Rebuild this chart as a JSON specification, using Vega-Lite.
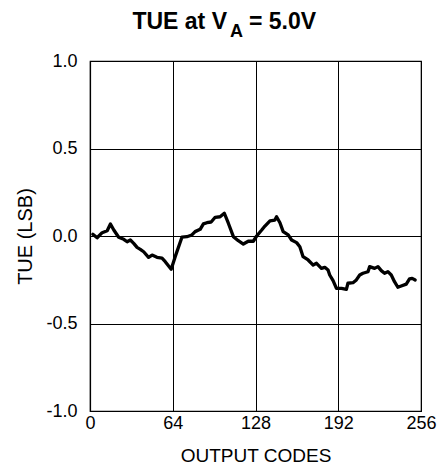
{
  "$schema": "https://vega.github.io/schema/vega-lite/v6.json",
  "width": 331,
  "height": 350,
  "autosize": {"type": "none"},
  "padding": {"left": 90, "top": 61, "right": 22, "bottom": 61},
  "background": "white",
  "config": {
    "font": "Liberation Sans",
    "view": {"stroke": "black", "strokeWidth": 1.2},
    "axis": {
      "domainColor": "black",
      "domainWidth": 1.2,
      "gridColor": "black",
      "gridOpacity": 1,
      "gridWidth": 1,
      "ticks": false,
      "tickSize": 0,
      "labelFlush": false,
      "labelOverlap": false,
      "labelFont": "Liberation Sans",
      "labelFontSize": 18,
      "labelColor": "black",
      "titleFont": "Liberation Sans",
      "titleFontWeight": "normal",
      "titleColor": "#000000"
    }
  },
  "datasets": {
    "tue": [
      {"code": 2.2, "tue": 0.01},
      {"code": 5.5, "tue": -0.01},
      {"code": 9.4, "tue": 0.019},
      {"code": 13.3, "tue": 0.03},
      {"code": 15.8, "tue": 0.069},
      {"code": 18.4, "tue": 0.034},
      {"code": 22.2, "tue": -0.007},
      {"code": 26.1, "tue": -0.019},
      {"code": 28.7, "tue": -0.033},
      {"code": 31.2, "tue": -0.023},
      {"code": 33.8, "tue": -0.042},
      {"code": 36.4, "tue": -0.065},
      {"code": 38.9, "tue": -0.076},
      {"code": 41.5, "tue": -0.09},
      {"code": 45.3, "tue": -0.122},
      {"code": 48.0, "tue": -0.109},
      {"code": 51.8, "tue": -0.122},
      {"code": 55.7, "tue": -0.127},
      {"code": 58.2, "tue": -0.147},
      {"code": 62.8, "tue": -0.19},
      {"code": 65.9, "tue": -0.118},
      {"code": 71.1, "tue": -0.007},
      {"code": 74.9, "tue": -0.004},
      {"code": 78.8, "tue": 0.006},
      {"code": 81.3, "tue": 0.025},
      {"code": 85.2, "tue": 0.038},
      {"code": 87.7, "tue": 0.069},
      {"code": 90.4, "tue": 0.076},
      {"code": 93.7, "tue": 0.08},
      {"code": 96.8, "tue": 0.107},
      {"code": 100.6, "tue": 0.11},
      {"code": 103.9, "tue": 0.13},
      {"code": 107.0, "tue": 0.073},
      {"code": 110.9, "tue": -0.004},
      {"code": 114.7, "tue": -0.027},
      {"code": 118.6, "tue": -0.046},
      {"code": 122.4, "tue": -0.03},
      {"code": 126.3, "tue": -0.03},
      {"code": 128.9, "tue": 0.0},
      {"code": 132.8, "tue": 0.034},
      {"code": 135.3, "tue": 0.057},
      {"code": 139.2, "tue": 0.087},
      {"code": 143.0, "tue": 0.091},
      {"code": 144.3, "tue": 0.11},
      {"code": 146.9, "tue": 0.076},
      {"code": 149.4, "tue": 0.025},
      {"code": 153.3, "tue": 0.006},
      {"code": 155.9, "tue": -0.023},
      {"code": 159.8, "tue": -0.038},
      {"code": 162.3, "tue": -0.061},
      {"code": 164.8, "tue": -0.118},
      {"code": 168.7, "tue": -0.137},
      {"code": 172.6, "tue": -0.166},
      {"code": 175.2, "tue": -0.156},
      {"code": 179.0, "tue": -0.185},
      {"code": 181.6, "tue": -0.179},
      {"code": 184.1, "tue": -0.194},
      {"code": 185.4, "tue": -0.223},
      {"code": 188.0, "tue": -0.255},
      {"code": 190.6, "tue": -0.299},
      {"code": 194.5, "tue": -0.299},
      {"code": 198.3, "tue": -0.305},
      {"code": 199.5, "tue": -0.27},
      {"code": 203.4, "tue": -0.267},
      {"code": 206.0, "tue": -0.251},
      {"code": 208.6, "tue": -0.223},
      {"code": 211.1, "tue": -0.213},
      {"code": 215.0, "tue": -0.204},
      {"code": 216.3, "tue": -0.175},
      {"code": 220.1, "tue": -0.185},
      {"code": 222.7, "tue": -0.175},
      {"code": 225.3, "tue": -0.198},
      {"code": 227.8, "tue": -0.213},
      {"code": 230.4, "tue": -0.204},
      {"code": 233.0, "tue": -0.223},
      {"code": 235.5, "tue": -0.261},
      {"code": 238.1, "tue": -0.293},
      {"code": 240.7, "tue": -0.286},
      {"code": 244.6, "tue": -0.275},
      {"code": 247.1, "tue": -0.245},
      {"code": 249.2, "tue": -0.242},
      {"code": 251.5, "tue": -0.251}
    ],
    "heading": [
      {"part": "TUE at V", "kind": "main"},
      {"part": "A", "kind": "sub"},
      {"part": "= 5.0V", "kind": "tail"}
    ]
  },
  "layer": [
    {
      "data": {"name": "tue"},
      "mark": {"type": "line", "color": "black", "strokeWidth": 3.3, "strokeJoin": "round", "strokeCap": "round"},
      "encoding": {
        "x": {
          "field": "code",
          "type": "quantitative",
          "scale": {"domain": [0, 256], "nice": false, "zero": false},
          "axis": {
            "values": [0, 64, 128, 192, 256],
            "title": "OUTPUT CODES",
            "titleFontSize": 19,
            "titlePadding": 14,
            "labelPadding": 3
          }
        },
        "y": {
          "field": "tue",
          "type": "quantitative",
          "scale": {"domain": [-1, 1], "nice": false, "zero": false},
          "axis": {
            "values": [-1, -0.5, 0, 0.5, 1],
            "labelExpr": "(datum.value < 0 ? '-' : '') + format(abs(datum.value), '.1f')",
            "title": "TUE (LSB)",
            "titleColor": "#000000",
            "titleFontSize": 20,
            "titlePadding": 10,
            "labelPadding": 13
          }
        }
      }
    },
    {
      "data": {"name": "heading"},
      "transform": [{"filter": "datum.kind === 'main'"}],
      "mark": {"type": "text", "font": "Liberation Sans", "fontWeight": "bold", "fontSize": 23, "align": "right", "baseline": "alphabetic", "x": 137, "y": -32, "color": "black"},
      "encoding": {"text": {"field": "part"}}
    },
    {
      "data": {"name": "heading"},
      "transform": [{"filter": "datum.kind === 'sub'"}],
      "mark": {"type": "text", "font": "Liberation Sans", "fontWeight": "bold", "fontSize": 18, "align": "left", "baseline": "alphabetic", "x": 140, "y": -24, "color": "black"},
      "encoding": {"text": {"field": "part"}}
    },
    {
      "data": {"name": "heading"},
      "transform": [{"filter": "datum.kind === 'tail'"}],
      "mark": {"type": "text", "font": "Liberation Sans", "fontWeight": "bold", "fontSize": 23, "align": "left", "baseline": "alphabetic", "x": 159, "y": -32, "color": "black"},
      "encoding": {"text": {"field": "part"}}
    }
  ]
}
